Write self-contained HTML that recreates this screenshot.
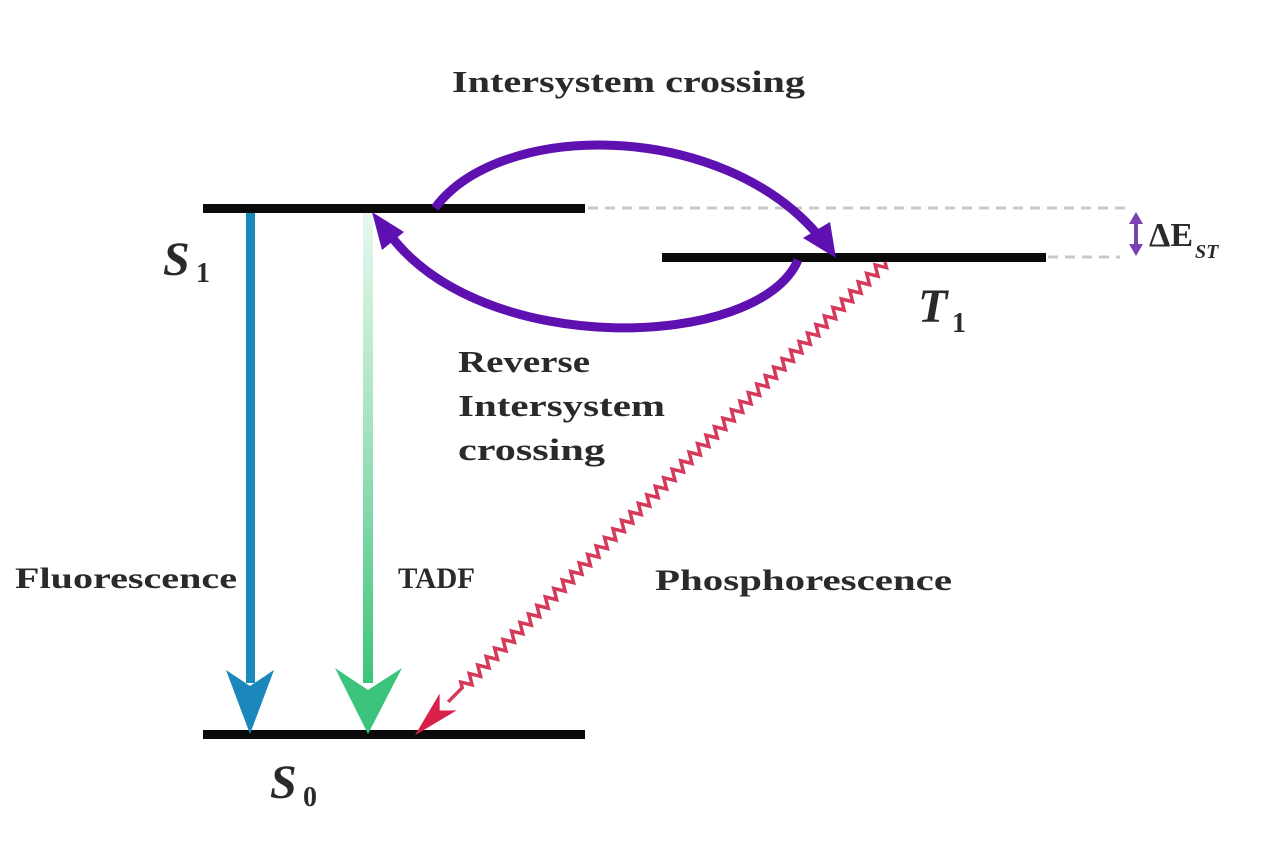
<!DOCTYPE html>
<html><head><meta charset="utf-8"><style>
html,body{margin:0;padding:0;background:#fff;}
svg{display:block;}
text{font-family:"Liberation Serif",serif;font-weight:bold;fill:#2a2a2a;}
</style></head><body>
<svg width="1270" height="860" viewBox="0 0 1270 860" xmlns="http://www.w3.org/2000/svg">
<defs>
<linearGradient id="tg" x1="0" y1="0" x2="0" y2="1">
<stop offset="0" stop-color="#e6f8ee"/>
<stop offset="0.5" stop-color="#9ee0bb"/>
<stop offset="1" stop-color="#3cc47c"/>
</linearGradient>
</defs>
<line x1="588" y1="208" x2="1125" y2="208" stroke="#c8c8c8" stroke-width="3" stroke-dasharray="10,7"/>
<line x1="1048" y1="257" x2="1120" y2="257" stroke="#c8c8c8" stroke-width="3" stroke-dasharray="10,7"/>
<rect x="203" y="204" width="382" height="9" fill="#0a0a0a"/>
<rect x="662" y="253" width="384" height="9" fill="#0a0a0a"/>
<rect x="203" y="730" width="382" height="9" fill="#0a0a0a"/>
<rect x="246" y="213" width="9" height="470" fill="#1a88bd"/>
<polygon points="226,670 250,686 274,670 250,734" fill="#1a88bd"/>
<rect x="363" y="213" width="10" height="470" fill="url(#tg)"/>
<polygon points="335,668 368,690 402,668 368,734" fill="#3cc47c"/>
<path d="M435,208 C500,120 720,120 818,235" fill="none" stroke="#5e10b0" stroke-width="9"/>
<polygon points="803,238 830,222 836,258" fill="#5e10b0"/>
<path d="M798,260 C760,350 480,360 388,232" fill="none" stroke="#5e10b0" stroke-width="9"/>
<polygon points="372,212 404,232 382,250" fill="#5e10b0"/>
<line x1="1136" y1="222" x2="1136" y2="246" stroke="#7a3fb0" stroke-width="4"/>
<polygon points="1129,224 1136,212 1143,224" fill="#7a3fb0"/>
<polygon points="1129,244 1136,256 1143,244" fill="#7a3fb0"/>
<text x="1149" y="246" font-size="34" font-family="Liberation Sans">ΔE</text>
<text x="1195" y="258" font-size="20" font-style="italic">ST</text>
<g transform="translate(885,262) rotate(134.8)">
<path d="M0,0 l3,-5 6,10 3,-5 3,-5 6,10 3,-5 3,-5 6,10 3,-5 3,-5 6,10 3,-5 3,-5 6,10 3,-5 3,-5 6,10 3,-5 3,-5 6,10 3,-5 3,-5 6,10 3,-5 3,-5 6,10 3,-5 3,-5 6,10 3,-5 3,-5 6,10 3,-5 3,-5 6,10 3,-5 3,-5 6,10 3,-5 3,-5 6,10 3,-5 3,-5 6,10 3,-5 3,-5 6,10 3,-5 3,-5 6,10 3,-5 3,-5 6,10 3,-5 3,-5 6,10 3,-5 3,-5 6,10 3,-5 3,-5 6,10 3,-5 3,-5 6,10 3,-5 3,-5 6,10 3,-5 3,-5 6,10 3,-5 3,-5 6,10 3,-5 3,-5 6,10 3,-5 3,-5 6,10 3,-5 3,-5 6,10 3,-5 3,-5 6,10 3,-5 3,-5 6,10 3,-5 3,-5 6,10 3,-5 3,-5 6,10 3,-5 3,-5 6,10 3,-5 3,-5 6,10 3,-5 3,-5 6,10 3,-5 3,-5 6,10 3,-5 3,-5 6,10 3,-5 3,-5 6,10 3,-5 3,-5 6,10 3,-5 3,-5 6,10 3,-5 3,-5 6,10 3,-5 3,-5 6,10 3,-5 3,-5 6,10 3,-5 3,-5 6,10 3,-5 3,-5 6,10 3,-5 3,-5 6,10 3,-5 3,-5 6,10 3,-5 3,-5 6,10 3,-5 3,-5 6,10 3,-5 3,-5 6,10 3,-5 l20,0" fill="none" stroke="#d63a5a" stroke-width="3.5"/>
<polygon points="620,-12 667,0 620,12 632,0" fill="#d8204a"/>
</g>
<text x="452" y="92" font-size="31" textLength="353" lengthAdjust="spacingAndGlyphs">Intersystem crossing</text>
<text x="458" y="372" font-size="31" textLength="132" lengthAdjust="spacingAndGlyphs">Reverse</text>
<text x="458" y="416" font-size="31" textLength="207" lengthAdjust="spacingAndGlyphs">Intersystem</text>
<text x="458" y="460" font-size="31" textLength="147" lengthAdjust="spacingAndGlyphs">crossing</text>
<text x="15" y="588" font-size="30" textLength="222" lengthAdjust="spacingAndGlyphs">Fluorescence</text>
<text x="398" y="588" font-size="30" textLength="77" lengthAdjust="spacingAndGlyphs">TADF</text>
<text x="655" y="590" font-size="30" textLength="297" lengthAdjust="spacingAndGlyphs">Phosphorescence</text>
<text x="163" y="275" font-size="48" font-style="italic">S</text>
<text x="196" y="282" font-size="28">1</text>
<text x="918" y="322" font-size="48" font-style="italic">T</text>
<text x="952" y="332" font-size="28">1</text>
<text x="270" y="798" font-size="48" font-style="italic">S</text>
<text x="303" y="806" font-size="28">0</text>
</svg>
</body></html>
